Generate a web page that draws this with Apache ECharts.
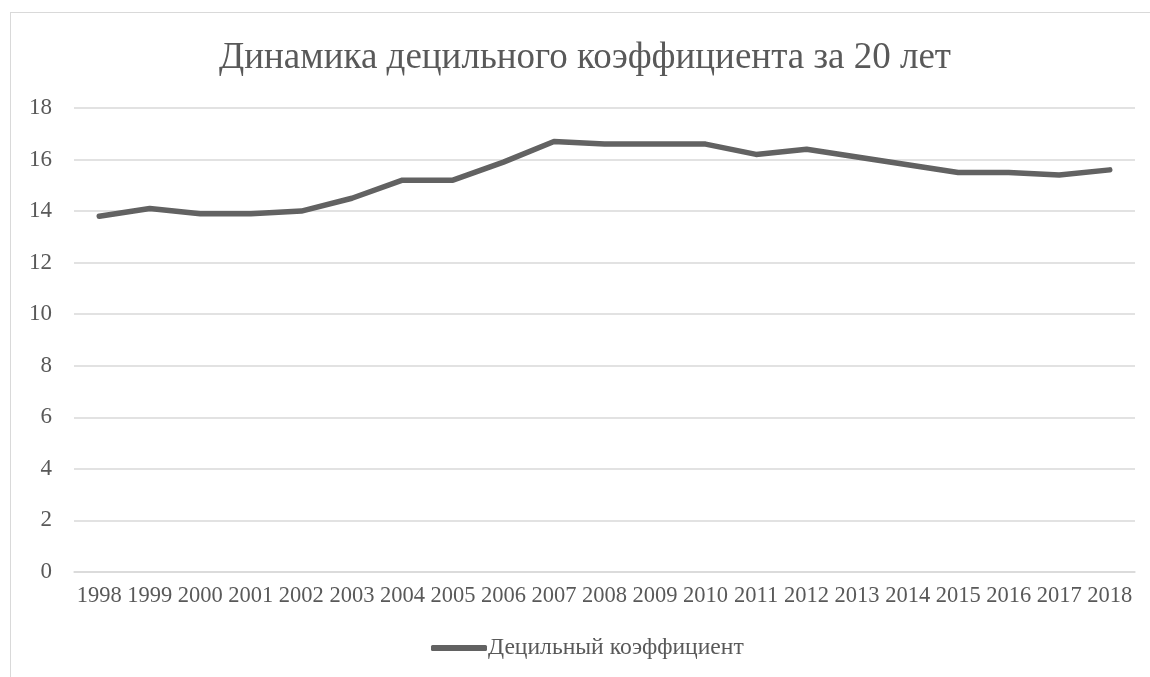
<!DOCTYPE html>
<html><head><meta charset="utf-8">
<script src="https://cdn.jsdelivr.net/npm/echarts@6/dist/echarts.min.js"></script>
<style>
html,body{margin:0;padding:0;background:#fff;}
#frame{position:absolute;left:10px;top:12px;width:1160px;height:700px;border:1px solid #d9d9d9;box-sizing:border-box;}
#main{position:absolute;left:0;top:0;width:1150px;height:677px;}
</style></head>
<body>
<div id="frame"></div>
<div id="main"></div>
<script>
const titleText = 'Динамика децильного коэффициента за 20 лет';
const seriesName = 'Децильный коэффициент';
const years = ['1998','1999','2000','2001','2002','2003','2004','2005','2006','2007','2008','2009','2010','2011','2012','2013','2014','2015','2016','2017','2018'];
const values = [13.8,14.1,13.9,13.9,14.0,14.5,15.2,15.2,15.9,16.7,16.6,16.6,16.6,16.2,16.4,16.1,15.8,15.5,15.5,15.4,15.6];

const font = '"Liberation Serif","Times New Roman",serif';
const chart = echarts.init(document.getElementById('main'));
chart.setOption({
  animation:false,
  title:{text:titleText,left:214,top:35,textStyle:{fontFamily:font,fontSize:37,fontWeight:'normal',color:'#595959'}},
  legend:{top:631,left:426,itemWidth:56,itemHeight:6,itemGap:10,icon:'roundRect',
    textStyle:{fontFamily:font,fontSize:23.6,color:'#595959',padding:[0,0,0,-4]},data:[seriesName]},
  grid:{left:74,right:15,top:108,bottom:105,containLabel:false},
  xAxis:{type:'category',data:years,boundaryGap:true,
    axisLine:{show:true,lineStyle:{color:'#d9d9d9',width:1.5}},axisTick:{show:false},
    axisLabel:{fontFamily:font,fontSize:22.5,color:'#595959',margin:13,interval:0}},
  yAxis:{type:'value',min:0,max:18,interval:2,
    axisLine:{show:false},axisTick:{show:false},
    splitLine:{lineStyle:{color:'#d9d9d9',width:1.5}},
    axisLabel:{fontFamily:font,fontSize:23,color:'#595959',margin:22}},
  series:[{name:seriesName,type:'line',data:values,symbol:'none',
    lineStyle:{color:'#626262',width:5.5,cap:'round',join:'round'},itemStyle:{color:'#626262'}}]
});
</script>
</body></html>
